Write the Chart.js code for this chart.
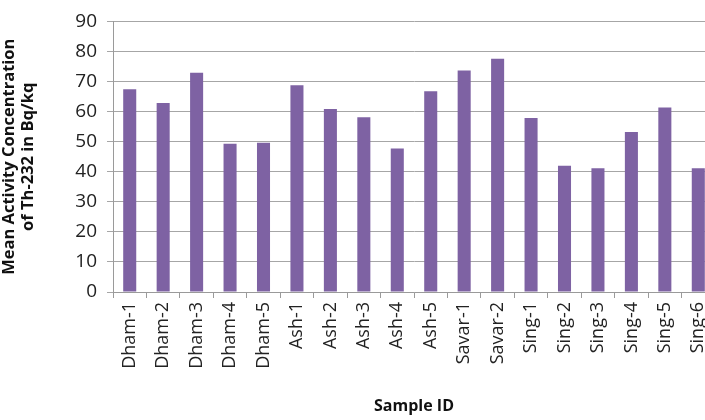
<!DOCTYPE html>
<html>
<head>
<meta charset="utf-8">
<script src="https://cdn.jsdelivr.net/npm/chart.js@4/dist/chart.umd.min.js"></script>
<style>
  html, body { margin: 0; padding: 0; background: #fff; overflow: hidden; }
  #wrap { width: 724px; height: 420px; }
</style>
</head>
<body>
<div id="wrap"><canvas id="grafico"></canvas></div>
<script>
// Datos
const muestras = ['Dham-1', 'Dham-2', 'Dham-3', 'Dham-4', 'Dham-5', 'Ash-1', 'Ash-2', 'Ash-3', 'Ash-4', 'Ash-5',
    'Savar-1', 'Savar-2', 'Sing-1', 'Sing-2', 'Sing-3', 'Sing-4', 'Sing-5', 'Sing-6'];
const concentracion = [67.4, 62.9, 72.9, 49.3, 49.6, 68.8, 60.9, 58.1, 47.7, 66.8,
    73.7, 77.6, 57.9, 42.0, 41.2, 53.2, 61.4, 41.2];
const ticksY = [0, 10, 20, 30, 40, 50, 60, 70, 80, 90];

const fuente = "'Open Sans', 'DejaVu Sans', sans-serif";

new Chart(document.getElementById('grafico'), {
    type: 'bar',
    data: {
        labels: muestras,
        datasets: [{
            label: 'Th-232',
            data: concentracion,
            backgroundColor: '#7e62a3',
            borderWidth: 0,
            barPercentage: 0.78,
            categoryPercentage: 0.5
        }]
    },
    options: {
        responsive: true,
        maintainAspectRatio: false,
        animation: false,
        layout: { padding: { top: 18, right: 4, left: 0, bottom: 0 } },
        plugins: {
            legend: { display: false },
            tooltip: { enabled: false }
        },
        scales: {
            y: {
                min: 0,
                max: 90,
                afterBuildTicks: (scale) => { scale.ticks = ticksY.map(v => ({ value: v })); },
                afterFit: (scale) => { scale.width = 113; },
                border: { color: '#9a9a9a', width: 1 },
                grid: { color: '#a6a6a6', lineWidth: 1, tickLength: 6 },
                ticks: { color: '#222', font: { family: fuente, size: 19 }, padding: 10 },
                title: {
                    display: true,
                    text: ['Mean Activity Concentration', 'of Th-232 in Bq/kq'],
                    color: '#111',
                    font: { family: fuente, size: 16.5, weight: 'bold', lineHeight: 1.15 },
                    padding: { top: 0, bottom: 0 }
                }
            },
            x: {
                afterFit: (scale) => { scale.height = 128; },
                border: { color: '#9a9a9a', width: 1 },
                grid: { offset: true, drawOnChartArea: false, color: '#9a9a9a', tickLength: 6 },
                ticks: { color: '#222', font: { family: fuente, size: 18 }, minRotation: 90, maxRotation: 90, autoSkip: false, padding: 4 },
                title: {
                    display: true,
                    text: 'Sample ID',
                    color: '#111',
                    font: { family: fuente, size: 16, weight: 'bold' },
                    padding: { top: 4, bottom: 4 }
                }
            }
        }
    }
});
</script>
</body>
</html>
